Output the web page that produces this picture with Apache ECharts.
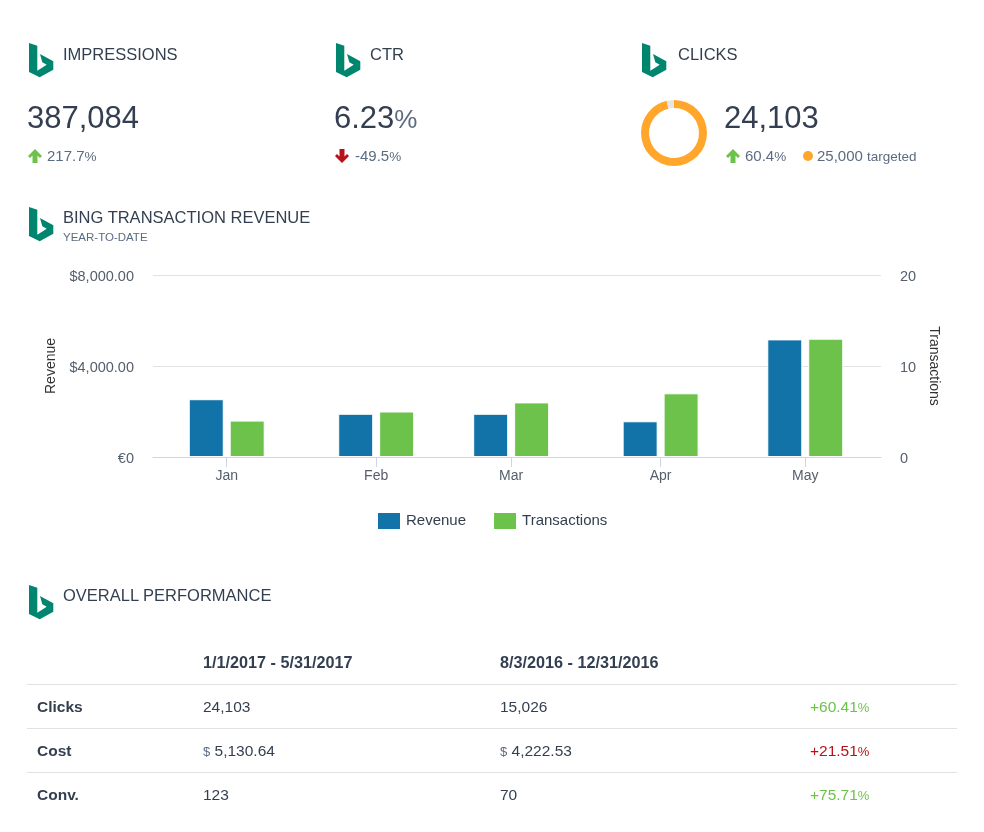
<!DOCTYPE html>
<html>
<head>
<meta charset="utf-8">
<script src="https://cdn.jsdelivr.net/npm/echarts@6/dist/echarts.min.js"></script>
<style>
  html, body { margin: 0; background: #fff; }
  body { font-family: "Liberation Sans", Arial, sans-serif; color: #333f50; }
  #page { position: relative; width: 984px; height: 832px; overflow: hidden; }
  #chart { position: absolute; left: 0; top: 0; width: 984px; height: 832px; }
  .t { position: absolute; white-space: nowrap; line-height: 20px; }
  .head { font-size: 16.5px; }
  .sub { font-size: 11.5px; color: #5c6b82; }
  .big { font-size: 31px; line-height: 36px; }
  .big small { font-size: 26px; color: #5c6b82; }
  .delta { font-size: 15px; color: #5c6b82; }
  .delta small { font-size: 13.5px; }
  svg { position: absolute; }
  table { position: absolute; left: 27px; top: 641px; width: 930px; border-collapse: collapse; table-layout: fixed; font-size: 15.5px; }
  td, th { height: 43px; padding: 0 0 0 10px; text-align: left; border-bottom: 1px solid #dfe3e6; }
  th { font-weight: bold; font-size: 16.2px; }
  tr:last-child td { border-bottom: none; }
  td:first-child { font-weight: bold; }
  td small { font-size: 13px; color: #5c6b82; }
  .up { color: #6cc24a; }
  .down { color: #b5121b; }
</style>
</head>
<body>
<div id="page">
  <div id="chart"></div>
  <table id="perf"></table>
</div>
<script>
// bar chart data
const months = ['Jan', 'Feb', 'Mar', 'Apr', 'May'];
const monthStarts = ['2017-01-01', '2017-02-01', '2017-03-01', '2017-04-01', '2017-05-01'];
const revenue = [2540, 1900, 1900, 1570, 5170];
const transactions = [4, 5, 6, 7, 13];
const revenueTicks = { 0: '€0', 4000: '$4,000.00', 8000: '$8,000.00' };

// donut
const clicksValue = 24103;
const clicksTarget = 25000;

// table
const perfHeader = ['', '1/1/2017 - 5/31/2017', '8/3/2016 - 12/31/2016', ''];
const perfNames = ['Clicks', 'Cost', 'Conv.'];
const perfCurrent = ['24,103', '<small>$</small> 5,130.64', '123'];
const perfPrevious = ['15,026', '<small>$</small> 4,222.53', '70'];
const perfChange = ['+60.41', '+21.51', '+75.71'];
const perfChangeClass = ['up', 'down', 'up'];

const page = document.getElementById('page');

function addText(cls, x, y, html) {
  const el = document.createElement('div');
  el.className = 't ' + cls;
  el.style.left = x + 'px';
  el.style.top = y + 'px';
  el.innerHTML = html;
  page.appendChild(el);
}

function addSvg(x, y, w, h, inner) {
  page.insertAdjacentHTML('beforeend',
    `<svg style="left:${x}px;top:${y}px" width="${w}" height="${h}" viewBox="0 0 ${w} ${h}">${inner}</svg>`);
}

// bing logo
function addLogo(x, y) {
  addSvg(x, y, 25, 35, '<path fill="#00856f" d="M0 0L8.3 2.7V27.7L17.7 21.7L13.3 19.3L11 11L24.3 18.3V26.7L10.7 34.3L0 29Z"/>');
}
function addArrow(x, y, up) {
  const d = up ? 'M7 0L14 7L12 9L9.5 6.5V14H4.5V6.5L2 9L0 7Z' : 'M7 14L14 7L12 5L9.5 7.5V0H4.5V7.5L2 5L0 7Z';
  addSvg(x, y, 14, 14, `<path fill="${up ? '#6cc24a' : '#b5121b'}" d="${d}"/>`);
}

addLogo(29, 43); addText('head', 63, 44, 'IMPRESSIONS');
addLogo(336, 43); addText('head', 370, 44, 'CTR');
addLogo(642, 43); addText('head', 678, 44, 'CLICKS');
addLogo(29, 207); addText('head', 63, 207, 'BING TRANSACTION REVENUE');
addText('sub', 63, 227, 'YEAR-TO-DATE');
addLogo(29, 585); addText('head', 63, 585, 'OVERALL PERFORMANCE');

addText('big', 27, 100, '387,084');
addText('big', 334, 100, '6.23<small>%</small>');
addText('big', 724, 100, '24,103');

addArrow(28, 149, true); addText('delta', 47, 146, '217.7<small>%</small>');
addArrow(335, 149, false); addText('delta', 355, 146, '-49.5<small>%</small>');
addArrow(726, 149, true); addText('delta', 745, 146, '60.4<small>%</small>');
addSvg(803, 151, 10, 10, '<circle cx="5" cy="5" r="5" fill="#ffa62b"/>');
addText('delta', 817, 146, '25,000 <small>targeted</small>');

// overall performance table
let rows = '<colgroup><col style="width:166px"><col style="width:297px"><col style="width:310px"><col></colgroup>';
rows += '<tr>' + perfHeader.map(h => `<th>${h}</th>`).join('') + '</tr>';
perfNames.forEach((name, i) => {
  rows += `<tr><td>${name}</td><td>${perfCurrent[i]}</td><td>${perfPrevious[i]}</td>` +
    `<td class="${perfChangeClass[i]}">${perfChange[i]}<small style="color:inherit">%</small></td></tr>`;
});
document.getElementById('perf').innerHTML = rows;

const chart = echarts.init(document.getElementById('chart'));

chart.setOption({
  animation: false,
  textStyle: { fontFamily: '"Liberation Sans", Arial, sans-serif' },
  color: ['#1273a8', '#6cc24a'],
  legend: {
    left: 376, top: 511, padding: 0,
    itemWidth: 24, itemHeight: 18, itemGap: 26,
    icon: 'rect',
    textStyle: { fontSize: 15, color: '#333f50' },
    data: ['Revenue', 'Transactions']
  },
  grid: { left: 153, top: 275, width: 728, height: 182 },
  xAxis: {
    type: 'time',
    // echarts widens this range a bit to fit the bars
    min: '2016-12-24 14:00:00',
    max: '2017-05-08 20:00:00',
    splitLine: { show: false },
    axisLine: { lineStyle: { color: '#ccd6eb' } },
    axisTick: { length: 10, lineStyle: { color: '#ccd6eb' } },
    axisLabel: {
      color: '#555e6b', fontSize: 14, margin: 12,
      showMinLabel: false, showMaxLabel: false,
      formatter: v => new Date(v).getDate() === 1 ? months[new Date(v).getMonth()] : ''
    }
  },
  yAxis: [{
    type: 'value', min: 0, max: 8000, interval: 4000,
    name: 'Revenue', nameLocation: 'middle', nameGap: 93,
    nameTextStyle: { fontSize: 14, color: '#333' },
    axisLine: { show: false }, axisTick: { show: false },
    axisLabel: { color: '#555e6b', fontSize: 14.5, margin: 19, verticalAlign: 'top', lineHeight: 3, formatter: v => revenueTicks[v] },
    splitLine: { lineStyle: { color: '#e0e2e6' } }
  }, {
    type: 'value', min: 0, max: 20, interval: 10, position: 'right',
    name: 'Transactions', nameLocation: 'middle', nameGap: 45, nameRotate: -90,
    nameTextStyle: { fontSize: 14, color: '#333' },
    axisLine: { show: false }, axisTick: { show: false },
    axisLabel: { color: '#555e6b', fontSize: 14.5, margin: 19, verticalAlign: 'top', lineHeight: 3 },
    splitLine: { show: false }
  }],
  series: [{
    name: 'Revenue', type: 'bar', yAxisIndex: 0, barWidth: 35, barGap: '17%',
    itemStyle: { borderColor: '#fff', borderWidth: 1 },
    data: monthStarts.map((d, i) => [d, revenue[i]])
  }, {
    name: 'Transactions', type: 'bar', yAxisIndex: 1, barWidth: 35,
    itemStyle: { borderColor: '#fff', borderWidth: 1 },
    data: monthStarts.map((d, i) => [d, transactions[i]])
  }, {
    type: 'pie', silent: true, center: [674, 133], radius: [25, 33],
    startAngle: 90, clockwise: true, label: { show: false }, labelLine: { show: false },
    data: [
      { value: clicksValue, itemStyle: { color: '#ffa62b' } },
      { value: clicksTarget - clicksValue, itemStyle: { color: '#e6e6e6' } }
    ]
  }]
});
</script>
</body>
</html>
